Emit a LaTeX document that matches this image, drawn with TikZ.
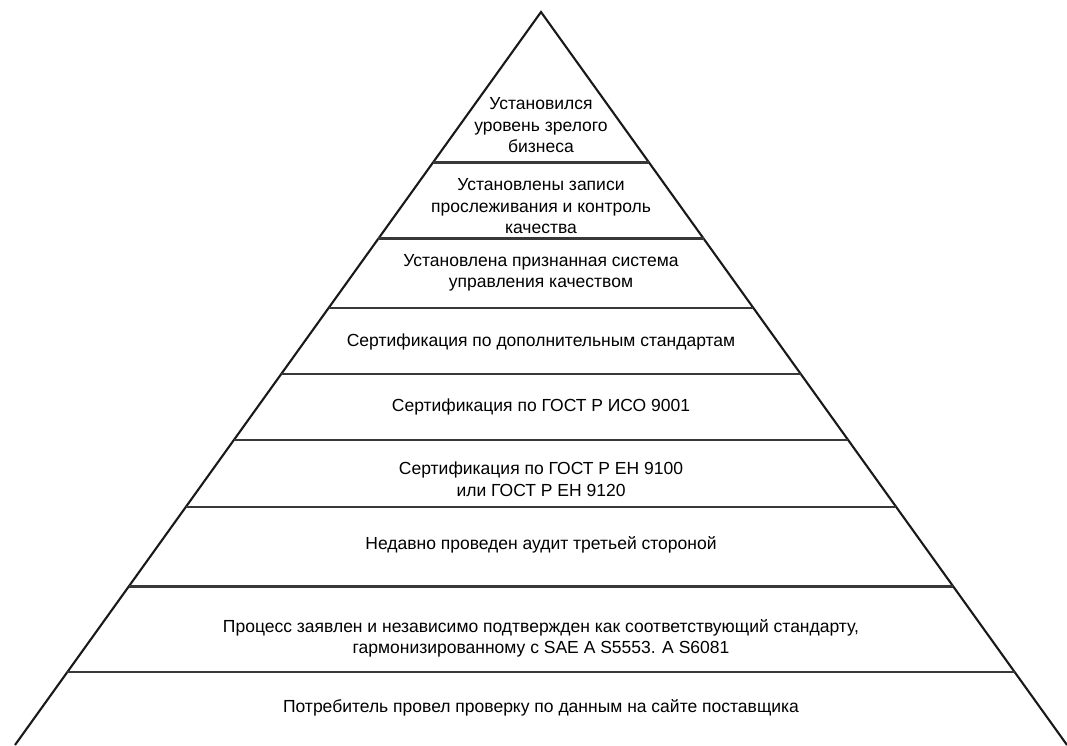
\documentclass[tikz,border=0pt]{standalone}
\usepackage{fontspec}
\setmainfont{Liberation Sans}
\usetikzlibrary{calc}
\begin{document}
\begin{tikzpicture}[x=1pt,y=-1pt,
  edge/.style={line width=2.1pt,draw=black!90,line join=miter},
  band/.style={line width=2.5pt,draw=black!78},
  lbl/.style={font=\fontsize{17.5}{21.5}\selectfont,align=center,text=black,inner sep=0pt}]
\useasboundingbox (0,0) rectangle (1067,745);
\coordinate (A) at (541,12);
\coordinate (BL) at (15,745);
\coordinate (BR) at (1067,745);
\draw[edge] (BL) -- (A) -- (BR);
\foreach \t in {0.2053,0.3090,0.4038,0.4939,0.5839,0.6753,0.7838,0.9004}{
  \draw[band] ($(A)!\t!(BL)$) -- ($(A)!\t!(BR)$);
}
\node[lbl] (l1) at (541,125.5) {Установился\\уровень зрелого\\бизнеса};
\node[lbl] (l2) at (541,206.5) {Установлены записи\\прослеживания и контроль\\качества};
\node[lbl] (l3) at (541,273) {Установлена признанная система\\управления качеством};
\node[lbl] (l4) at (541,342) {Сертификация по дополнительным стандартам};
\node[lbl] (l5) at (541,407) {Сертификация по ГОСТ Р ИСО 9001};
\node[lbl] (l6) at (541,479) {Сертификация по ГОСТ Р ЕН 9100\\или ГОСТ Р ЕН 9120};
\node[lbl] (l7) at (541,545) {Недавно проведен аудит третьей стороной};
\node[lbl] (l8) at (541,638.5) {Процесс заявлен и независимо подтвержден как соответствующий стандарту,\\гармонизированному с SAE A S5553. A S6081};
\node[lbl] (l9) at (541,708) {Потребитель провел проверку по данным на сайте поставщика};
\end{tikzpicture}
\end{document}
